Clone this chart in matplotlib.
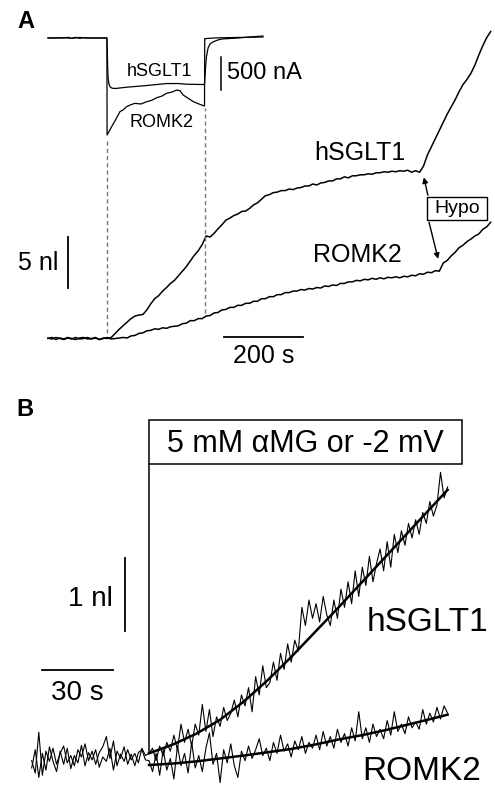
import numpy as np
import matplotlib
matplotlib.use('Agg')
import matplotlib.pyplot as plt
from matplotlib.patches import Rectangle

plt.rcParams['font.family'] = ['Liberation Sans', 'DejaVu Sans']

# ---------------------------------------------------------------------------
# Panel A: currents (nA) during the 5 mM aMG / -2 mV pulse
hsglt1_I_t = [0, 40, 50, 60, 70, 80, 90, 100, 149, 150, 151, 152, 154, 157, 162,
              170, 200, 250, 300, 330, 350, 395, 396, 397, 399, 401, 405, 410,
              417, 430, 440, 480, 510, 544]
hsglt1_I = [0, 0, 10, -5, 10, -5, 5, 0, 0, -200, -450, -600, -690, -740, -760,
            -765, -745, -720, -690, -690, -700, -705, -705, -600, -410, -280, -150,
            -90, -60, -30, -15, 0, 15, 30]

romk2_I_t = [0, 40, 60, 80, 100, 149, 149.5, 155, 161, 170, 182, 190, 199, 210,
             220, 235, 250, 262, 275, 288, 300, 313, 326, 334, 342, 355, 368,
             380, 393, 396, 396.5, 420, 450, 500, 544]
romk2_I = [0, 5, -5, 8, 0, 0, -1470, -1410, -1343, -1250, -1116, -1090, -1040,
           -1010, -990, -1000, -965, -945, -905, -880, -838, -820, -788, -800,
           -864, -915, -965, -995, -1025, -1030, -10, 0, 5, 10, 15]

# Panel A: oocyte volume change (nl), sampled every 10 s from t = 0
vol_dt = 10
hsglt1_vol = [
    0.0, 0.1, -0.1, 0.05, -0.05, 0.1, 0.0, -0.1, 0.05, 0.1,
    -0.05, 0.0, 0.1, -0.1, 0.05, 0.0, 0.1, 0.5, 0.9, 1.25,
    1.6, 1.95, 2.2, 2.3, 2.35, 2.8, 3.4, 3.9, 4.2, 4.65,
    5.0, 5.4, 5.7, 6.15, 6.6, 7.05, 7.6, 8.15, 8.6, 9.2,
    10.05, 9.95, 10.3, 10.75, 11.15, 11.6, 11.8, 12.05, 12.2, 12.45,
    12.5, 12.75, 13.1, 13.3, 13.65, 14.0, 14.1, 14.3, 14.35, 14.5,
    14.5, 14.65, 14.6, 14.75, 14.8, 14.95, 14.95, 15.15, 15.05, 15.25,
    15.3, 15.45, 15.45, 15.65, 15.65, 15.85, 15.75, 15.95, 15.95, 16.05,
    16.05, 16.15, 16.1, 16.25, 16.25, 16.35, 16.3, 16.4, 16.35, 16.45,
    16.4, 16.5, 16.3, 16.45, 16.3, 16.9, 18.0, 18.8, 19.6, 20.4,
    21.2, 22.0, 22.7, 23.4, 24.2, 24.9, 25.4, 26.0, 26.8, 27.8,
    28.7, 29.5, 30.1]
romk2_vol = [
    0.05, -0.05, 0.1, 0.0, -0.1, 0.05, -0.05, 0.1, -0.05, 0.0,
    0.1, -0.05, 0.05, -0.1, 0.0, 0.1, -0.05, 0.0, 0.05, 0.1,
    0.05, 0.25, 0.3, 0.5, 0.55, 0.75, 0.8, 0.95, 0.9, 1.05,
    1.0, 1.15, 1.2, 1.25, 1.45, 1.5, 1.75, 1.75, 1.95, 1.95,
    2.2, 2.25, 2.5, 2.55, 2.8, 2.85, 3.05, 3.05, 3.25, 3.25,
    3.45, 3.45, 3.65, 3.65, 3.9, 3.9, 4.1, 4.1, 4.3, 4.3,
    4.5, 4.5, 4.65, 4.65, 4.8, 4.75, 4.9, 4.85, 5.0, 4.95,
    5.15, 5.1, 5.25, 5.2, 5.4, 5.4, 5.55, 5.55, 5.7, 5.65,
    5.8, 5.75, 5.9, 5.8, 5.95, 5.85, 6.0, 5.95, 6.05, 5.95,
    6.1, 6.05, 6.2, 6.15, 6.35, 6.3, 6.5, 6.45, 6.65, 6.6,
    7.4, 7.65, 8.1, 8.45, 8.9, 9.15, 9.5, 9.75, 10.05, 10.25,
    10.7, 10.95, 11.4]
pulse_on, pulse_off = 149, 396

# Panel B: first 2 minutes, sampled every 1.5 s from t = -49.5 s
b_t0, b_dt = -49.5, 1.5
hsglt1_b = [
    -0.05, -0.22, 0.34, -0.25, 0.08, -0.06, 0.12, -0.10, 0.05, 0.15,
    -0.08, 0.02, -0.12, 0.10, 0.00, 0.18, -0.05, 0.08, -0.10, 0.06,
    0.14, 0.28, -0.02, 0.22, -0.12, 0.04, -0.06, 0.10, -0.04, 0.05,
    -0.08, 0.12, 0.02,
    0.05, 0.12, -0.05, 0.15, 0.02, 0.20, 0.08, 0.30, 0.10, 0.45,
    0.20, 0.38, 0.15, 0.45, 0.30, 0.72, 0.35, 0.65, 0.28, 0.55,
    0.42, 0.68, 0.50, 0.60, 0.78, 0.55, 0.85, 0.70, 0.95, 0.62,
    1.10, 0.85, 1.25, 0.95, 1.02, 1.30, 1.05, 1.42, 1.20, 1.55,
    1.30, 1.60, 1.45, 2.05, 1.80, 2.15, 1.90, 2.10, 1.85, 2.20,
    1.95, 1.80, 2.15, 1.90, 2.30, 2.05, 2.40, 2.10, 2.55, 2.20,
    2.60, 2.35, 2.75, 2.40, 2.65, 2.85, 2.55, 2.95, 2.60, 3.05,
    2.80, 3.10, 2.90, 3.20, 3.00, 3.25, 3.05, 3.35, 3.20, 3.50,
    3.30, 3.45, 3.90, 3.55, 3.70]
romk2_b = [
    -0.15, 0.10, -0.28, 0.05, -0.18, 0.14, -0.06, -0.20, 0.08, -0.10,
    0.12, -0.16, 0.02, -0.08, 0.16, -0.12, 0.06, -0.04, 0.10, -0.14,
    0.00, -0.06, 0.12, -0.18, 0.08, -0.02, 0.14, -0.10, 0.04, -0.12,
    0.06, 0.10, -0.04,
    -0.05, -0.20, 0.05, -0.25, 0.10, -0.18, -0.02, -0.30, 0.15, -0.12,
    0.05, -0.22, 0.20, -0.15, 0.02, -0.20, 0.12, 0.33, -0.10, 0.05,
    -0.35, 0.10, -0.08, 0.18, -0.12, -0.28, 0.08, -0.05, 0.15, -0.02,
    0.10, 0.25, 0.02, 0.12, -0.05, 0.20, 0.05, 0.30, 0.08, 0.18,
    0.00, 0.22, 0.10, 0.28, 0.05, 0.20, 0.12, 0.30, 0.10, 0.35,
    0.15, 0.28, 0.12, 0.38, 0.20, 0.32, 0.15, 0.40, 0.22, 0.62,
    0.25, 0.40, 0.20, 0.45, 0.28, 0.38, 0.25, 0.50, 0.30, 0.62,
    0.35, 0.45, 0.32, 0.55, 0.40, 0.48, 0.38, 0.65, 0.45, 0.60,
    0.48, 0.68, 0.52, 0.70, 0.60]

hsglt1_fit_t = [0, 10, 20, 30, 40, 50, 60, 70, 80, 90, 100, 110, 120, 126]
hsglt1_fit = [0.05, 0.17, 0.32, 0.51, 0.76, 1.05, 1.37, 1.71, 2.05, 2.40, 2.75,
              3.10, 3.45, 3.66]
romk2_fit_t = [0, 10, 20, 30, 40, 50, 60, 70, 80, 90, 100, 110, 120, 126]
romk2_fit = [-0.11, -0.09, -0.06, -0.02, 0.02, 0.065, 0.11, 0.17, 0.24, 0.30,
             0.37, 0.45, 0.53, 0.58]
# ---------------------------------------------------------------------------

W, H = 495, 788
fig = plt.figure(figsize=(W / 100, H / 100), dpi=100)

ax_v = fig.add_axes([0, 0, 1, 1])
ax_i = fig.add_axes([0, 0, 1, 1])
ax_b = fig.add_axes([0, 0, 1, 1])
for ax in (ax_v, ax_i, ax_b):
    ax.set_axis_off()
    ax.patch.set_alpha(0)

# scales: 2.53 s/px, 10.2 px/nl, 15.15 nA/px (panel A); 2.37 px/s, 73 px/nl (B)
ax_v.set_xlim(-48 * 2.53, (W - 48) * 2.53)
ax_v.set_ylim((338.5 - H) / 10.2, 338.5 / 10.2)
ax_i.set_xlim(ax_v.get_xlim())
ax_i.set_ylim(-(H - 38) * 15.15, 38 * 15.15)
ax_b.set_xlim(-149 / 2.37, (W - 149) / 2.37)
ax_b.set_ylim((757 - H) / 73, 757 / 73)

fs = 'Liberation Sans'

# ---- panel A, currents
ax_i.plot(hsglt1_I_t, hsglt1_I, color='k', lw=0.9)
ax_i.plot(romk2_I_t, romk2_I, color='k', lw=0.9)
ax_i.plot([438, 438], [-290, -790], color='k', lw=1.1)
ax_i.text(453, -530, '500 nA', fontsize=17, ha='left', va='center')
ax_i.text(281, -515, 'hSGLT1', fontsize=13, ha='center', va='center')
ax_i.text(288, -1273, 'ROMK2', fontsize=13, ha='center', va='center')

# ---- panel A, volumes
tv_h = np.arange(len(hsglt1_vol)) * vol_dt
tv_r = np.arange(len(romk2_vol)) * vol_dt
ax_v.plot(tv_h, hsglt1_vol, color='k', lw=1.1)
ax_v.plot(tv_r, romk2_vol, color='k', lw=1.1)
ax_v.vlines(pulse_on, 0.5, 19.6, colors='#777777', linestyles=(0, (3, 2.2)), lw=1)
ax_v.vlines(pulse_off, 2.5, 22.6, colors='#777777', linestyles=(0, (3, 2.2)), lw=1)

ax_v.plot([51, 51], [5, 10], color='k', lw=1.3)
ax_v.text(25, 7.4, '5 nl', fontsize=18, ha='right', va='center')
ax_v.plot([445, 645], [0.1, 0.1], color='k', lw=1.3)
ax_v.text(545, -1.7, '200 s', fontsize=18, ha='center', va='center')

ax_v.text(789, 18.2, 'hSGLT1', fontsize=18, ha='center', va='center')
ax_v.text(782, 8.2, 'ROMK2', fontsize=18, ha='center', va='center')

ax_v.add_patch(Rectangle((959, 11.6), 152, 2.27, fill=False, lw=1, ec='k'))
ax_v.text(1035, 12.7, 'Hypo', fontsize=14, ha='center', va='center')
arrow = dict(arrowstyle='-|>', color='k', lw=1, mutation_scale=8,
             shrinkA=0, shrinkB=0)
ax_v.annotate('', xy=(951, 15.8), xytext=(961, 14.05), arrowprops=arrow)
ax_v.annotate('', xy=(987, 7.8), xytext=(964, 11.4), arrowprops=arrow)

# ---- panel B
tb_h = b_t0 + b_dt * np.arange(len(hsglt1_b))
tb_r = b_t0 + b_dt * np.arange(len(romk2_b))
ax_b.plot(tb_h, hsglt1_b, color='k', lw=0.8)
ax_b.plot(tb_r, romk2_b, color='k', lw=0.8)
ax_b.plot(hsglt1_fit_t, hsglt1_fit, color='k', lw=1.8)
ax_b.plot(romk2_fit_t, romk2_fit, color='k', lw=1.8)

ax_b.plot([0, 0], [0.05, 4.01], color='k', lw=1.1)
ax_b.add_patch(Rectangle((0, 4.01), 132, 0.6, fill=False, lw=1.1, ec='k'))
ax_b.text(66, 4.29, '5 mM αMG or -2 mV', fontsize=22, ha='center', va='center')

ax_b.plot([-10.1, -10.1], [1.73, 2.73], color='k', lw=1.3)
ax_b.text(-15.2, 2.17, '1 nl', fontsize=20, ha='right', va='center')
ax_b.plot([-45.1, -15.1], [1.19, 1.19], color='k', lw=1.3)
ax_b.text(-30.2, 0.87, '30 s', fontsize=20, ha='center', va='center')

ax_b.text(92, 1.84, 'hSGLT1', fontsize=24, ha='left', va='center')
ax_b.text(90, -0.2, 'ROMK2', fontsize=24, ha='left', va='center')

# panel letters
fig.text(26 / W, 1 - 22 / H, 'A', fontsize=17, fontweight='bold',
         ha='center', va='center')
fig.text(25 / W, 1 - 409 / H, 'B', fontsize=17, fontweight='bold',
         ha='center', va='center')

fig.savefig('out.png', dpi=100)
